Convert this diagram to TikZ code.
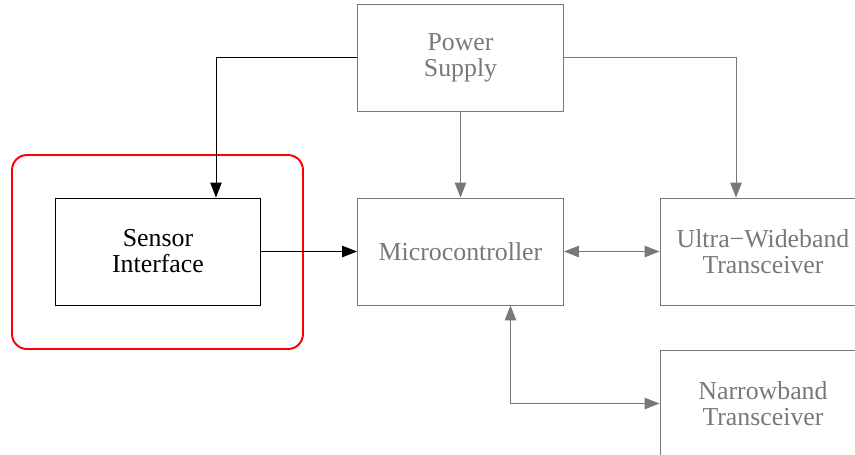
\documentclass[tikz,border=0pt]{standalone}
\usepackage{fontspec}
\setmainfont{Liberation Serif}
\usepackage{xcolor}
\usetikzlibrary{arrows.meta}
\definecolor{boxgray}{RGB}{120,120,120}
\tikzset{
  block/.style={draw,line width=0.55pt,minimum width=4.12cm,minimum height=2.14cm,
    align=center,font=\fontsize{14.7}{14.8}\selectfont,yshift=-0.04cm},
  grayblock/.style={block,draw=boxgray,text=boxgray},
  tip/.style={-{Triangle[length=8.5pt,width=6.5pt]}},
  twotip/.style={{Triangle[length=8.5pt,width=6.5pt]}-{Triangle[length=8.5pt,width=6.5pt]}}
}
\begin{document}
\begin{tikzpicture}[x=0.02cm,y=-0.02cm]
\useasboundingbox(0,0)rectangle(855,454);
\clip(0,0)rectangle(855,454);
\draw[red,line width=1.1pt,rounded corners=0.3cm](12,155)rectangle(303,349);
\node[grayblock](power)at(460.5,55.5){Power\\Supply};
\node[block](sensor)at(158,249.5){Sensor\\Interface};
\node[grayblock](micro)at(460.5,249.5){Microcontroller};
\node[grayblock](uwb)at(763,249.5){Ultra−Wideband\\Transceiver};
\node[grayblock](narrow)at(763,401.5){Narrowband\\Transceiver};
\draw[tip,line width=0.55pt](power.west)-|([xshift=1.16cm]sensor.north);
\draw[tip,line width=0.55pt](sensor.east)--(micro.west);
\draw[tip,boxgray,line width=0.55pt](power.south)--(micro.north);
\draw[tip,boxgray,line width=0.55pt](power.east)-|([xshift=-0.54cm]uwb.north);
\draw[twotip,boxgray,line width=0.55pt](micro.east)--(uwb.west);
\draw[twotip,boxgray,line width=0.55pt]([xshift=1cm]micro.south)|-(narrow.west);
\end{tikzpicture}
\end{document}
